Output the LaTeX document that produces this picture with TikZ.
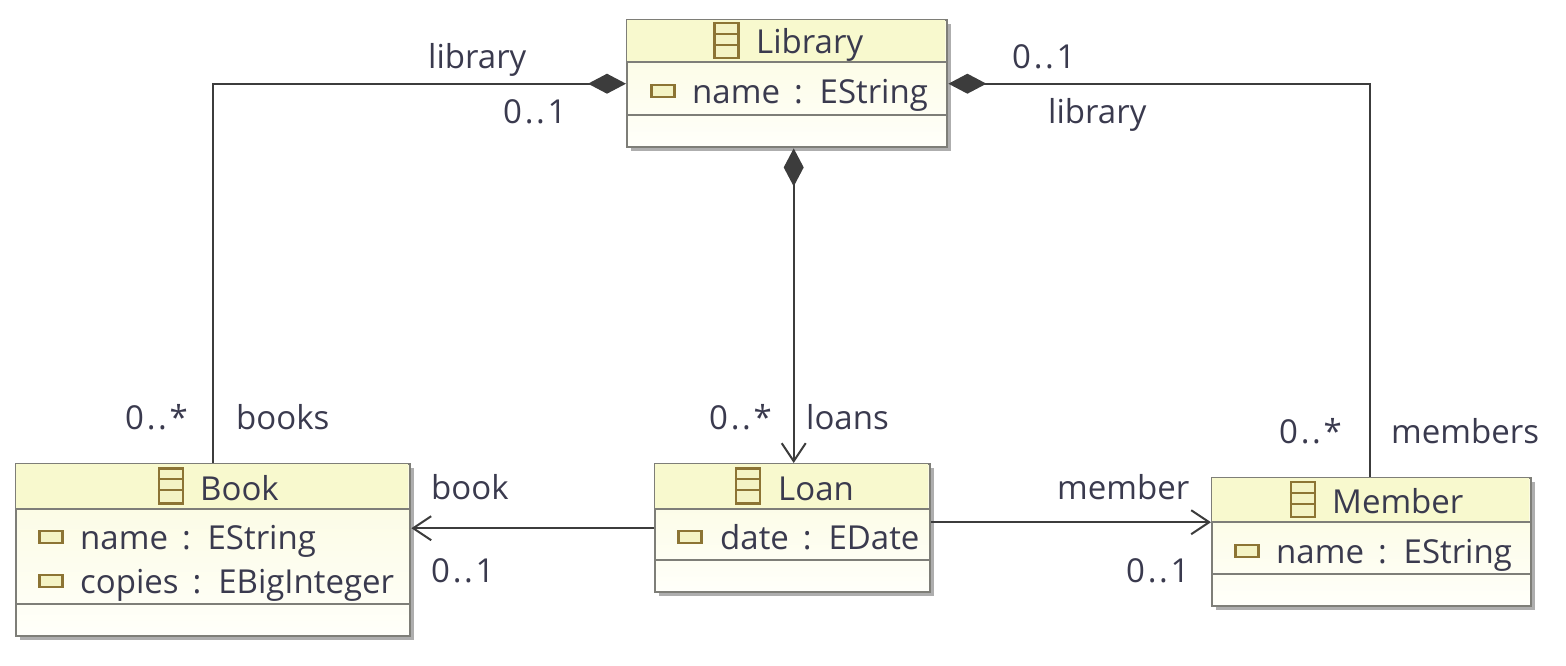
\documentclass[tikz,border=0pt]{standalone}
\usepackage{fontspec}
\setmainfont{Open Sans}
\usetikzlibrary{arrows.meta,calc,shadows}
\definecolor{ink}{HTML}{3A3A4E}
\definecolor{wire}{HTML}{3C3C3C}
\definecolor{edgegrey}{HTML}{7E7E78}
\definecolor{headfill}{HTML}{F8F9CE}
\definecolor{bodytop}{HTML}{FBFBDF}
\definecolor{bodylow}{HTML}{FFFFFA}
\definecolor{iconline}{HTML}{8C7434}
\definecolor{iconfill}{HTML}{F4F3C4}
\newcommand{\dotdot}{\kern2.7pt.\kern2.7pt.\kern2.7pt}

\begin{document}
\begin{tikzpicture}[
  x=1pt,y=-1pt,shift={(-1,-1)},
  font=\fontsize{33}{38}\selectfont,
  diamondtip/.tip={Diamond[length=38pt,width=20pt]},
  barbtip/.tip={Straight Barb[length=18pt,width=24pt,line width=2pt]},
  classbox/.style={draw=edgegrey,line width=2.4pt,top color=bodytop,bottom color=bodylow,
                   inner sep=0pt,
                   drop shadow={shadow xshift=4pt,shadow yshift=-4pt,fill=black!45,opacity=.7}},
  txt/.style={anchor=base west,inner sep=0pt,text=ink,execute at begin node={\spaceskip=14pt}},
  attricon/.style={draw=iconline,line width=2.4pt,fill=iconfill,minimum width=23pt,
                   minimum height=12pt,inner sep=0pt},
  classicon/.style={draw=iconline,line width=2.4pt,fill=iconfill,minimum width=24pt,
                    minimum height=35pt,inner sep=0pt},
  comp/.style={draw=wire,line width=2.2pt,diamondtip-},
  ref/.style={draw=wire,line width=2.2pt,-barbtip},
]
\useasboundingbox (1,1) rectangle (1567,666);

% name/left/top/right/bottom/head line/body line/title x/icon x
\foreach \n/\l/\t/\r/\b/\h/\s/\lbl/\tx/\ix in {
    library/627/20/947/147/63/116/Library/757/727.5,
    book/16/464/410/636/510/605/Book/201/172,
    loan/655/464/930/592/510/561/Loan/779/749,
    member/1212/478/1531/606/523/575/Member/1333/1304} {
  \node[classbox,minimum width={(\r-\l)*1pt},minimum height={(\b-\t)*1pt},anchor=north west]
    (\n) at (\l,\t) {};
  \fill[headfill] (\l+1,\t+1) rectangle (\r-1,\h);
  \draw[edgegrey,line width=2pt] (\l,\h) -- (\r,\h);
  \draw[edgegrey,line width=2pt] (\l,\s) -- (\r,\s);
  \node[classicon] (\n icon) at (\ix,{(\t+\h)/2}) {};
  \draw[iconline,line width=2pt] ($(\n icon.north west)+(0,12)$) -- ($(\n icon.north east)+(0,12)$);
  \draw[iconline,line width=2pt] ($(\n icon.north west)+(0,23)$) -- ($(\n icon.north east)+(0,23)$);
  \node[txt] (\n title) at (\tx,\h-9) {\lbl};
}

% attributes
\foreach \n/\ix/\tx/\y/\lbl in {
    libname/664/693/104/name : EString,
    bookname/52/81/550/name : EString,
    bookcopies/52/81/594/copies : EBigInteger,
    loandate/691/721/550/date : EDate,
    membername/1248/1277/564/name : EString} {
  \node[attricon] (\n icon) at (\ix,\y-12) {};
  \node[txt] (\n) at (\tx,\y) {\lbl};
}

% connectors
\coordinate (loanout) at ($(loan.east)+(0,-6)$);
\coordinate (loanin) at ($(loan.north)+(1,0)$);
\coordinate (memberin) at ($(member.north)+(-2,0)$);
\draw[comp] (library.west) -| (book.north);
\draw[comp] (library.east) -| (memberin);
\draw[draw=wire,line width=2.2pt,diamondtip-barbtip] (loanin |- library.south) -- (loanin);
\draw[ref] (loan.west) -- (loan.west -| book.east);
\draw[ref] (loanout) -- (loanout -| member.west);

% end labels
\foreach \n/\x/\y/\lbl in {
    la/429/69/library, lb/504/124/0\dotdot 1,
    lc/1013/69/0\dotdot 1, ld/1049/124/library,
    le/126/430/0\dotdot *, lf/237/430/books,
    lg/710/430/0\dotdot *, lh/807/430/loans,
    li/1280/444/0\dotdot *, lj/1392/444/members,
    lk/432/500/book, ll/432/583/0\dotdot 1,
    lm/1058/500/member, ln/1127/583/0\dotdot 1} {
  \node[txt] (\n) at (\x,\y) {\lbl};
}
\end{tikzpicture}
\end{document}
